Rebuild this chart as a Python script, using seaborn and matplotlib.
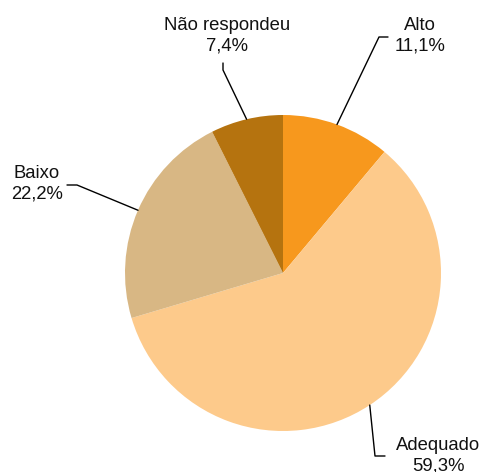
import numpy as np
import matplotlib
matplotlib.use("Agg")
import matplotlib.pyplot as plt
import seaborn as sns

sns.set_theme(style="white")
plt.rcParams['font.family'] = ['Liberation Sans', 'DejaVu Sans']

# pie data (clockwise from 12 o'clock)
categories = ["Alto", "Adequado", "Baixo", "Não respondeu"]
values = [11.1, 59.3, 22.2, 7.4]
labels = ["Alto\n11,1%", "Adequado\n59,3%", "Baixo\n22,2%", "Não respondeu\n7,4%"]
colors = ["#F7981D", "#FDCA8B", "#D8B784", "#B5730F"]

W, H = 481, 472
fig = plt.figure(figsize=(W / 100, H / 100), dpi=100)
ax = fig.add_axes([0, 0, 1, 1])

cx, cy, r = 283, H - 273, 158
wedges, _ = ax.pie(values, colors=colors, startangle=90, counterclock=False,
                   center=(cx, cy), radius=r, frame=True,
                   wedgeprops=dict(linewidth=0))
ax.set_xlim(0, W)
ax.set_ylim(0, H)
ax.set_aspect("equal")
ax.axis("off")

# leader line elbows and label anchors (pixel coords, y down)
elbows = [[(379, 37), (388, 37)],
          [(375, 456), (385, 456)],
          [(77, 185), (67, 185)],
          [(223, 70), (223, 63)]]
text_pos = [(420, 36), (438, 456), (37, 184), (227, 36)]

for w, el, tp, lab in zip(wedges, elbows, text_pos, labels):
    mid = np.deg2rad((w.theta1 + w.theta2) / 2)
    x0 = cx + r * np.cos(mid)
    y0 = cy + r * np.sin(mid)
    xs = [x0] + [p[0] for p in el]
    ys = [y0] + [H - p[1] for p in el]
    ax.plot(xs, ys, color="black", lw=1)
    ax.text(tp[0], H - tp[1], lab, ha="center", va="center", fontsize=13.3,
            color="#111111", multialignment="center", linespacing=1.27)

fig.savefig("out.png", dpi=100)
